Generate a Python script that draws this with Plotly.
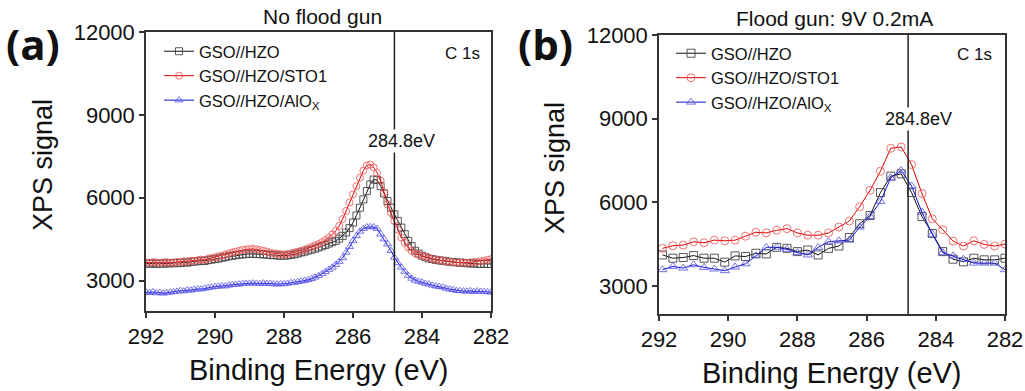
import numpy as np
import plotly.graph_objects as go

W, H = 1025, 391

# ---------------- data ----------------
# Panel (a): No flood gun, 292.0 -> 282.0 eV, 0.1 eV step
energy_a = np.round(np.linspace(292.0, 282.0, 101), 1)
hzo_a = [3620, 3610, 3630, 3600, 3620, 3610, 3630, 3620, 3640, 3630, 3640,
         3660, 3650, 3680, 3690, 3700, 3720, 3710, 3740, 3760, 3780,
         3800, 3830, 3850, 3880, 3900, 3920, 3940, 3950, 3960, 3970,
         3970, 3960, 3960, 3950, 3940, 3930, 3920, 3910, 3900, 3900,
         3910, 3930, 3950, 3980, 4020, 4050, 4090, 4120, 4160, 4200,
         4240, 4290, 4340, 4390, 4440, 4520, 4620, 4740, 4900, 5100,
         5360, 5640, 5940, 6240, 6480, 6660, 6640, 6420, 6150, 5880,
         5640, 5400, 5160, 4920, 4680, 4440, 4250, 4080, 3980, 3900,
         3850, 3800, 3780, 3750, 3730, 3720, 3700, 3680, 3670, 3660,
         3650, 3640, 3630, 3620, 3620, 3610, 3600, 3610, 3600, 3600]
sto_a = [3660, 3650, 3670, 3660, 3640, 3660, 3670, 3650, 3660, 3680, 3670,
         3700, 3690, 3720, 3710, 3740, 3760, 3750, 3790, 3820, 3840,
         3880, 3900, 3940, 3980, 4020, 4050, 4080, 4110, 4130, 4140,
         4150, 4130, 4110, 4080, 4050, 4010, 3990, 3970, 3960, 3950,
         3960, 3990, 4020, 4050, 4080, 4120, 4170, 4220, 4270, 4320,
         4390, 4470, 4560, 4670, 4800, 4980, 5230, 5520, 5830, 6120,
         6420, 6720, 6980, 7170, 7200, 7100, 6900, 6620, 6200, 5760,
         5450, 5160, 4850, 4560, 4370, 4200, 4080, 3990, 3940, 3900,
         3860, 3820, 3790, 3760, 3740, 3720, 3700, 3680, 3670, 3660,
         3650, 3660, 3640, 3660, 3670, 3680, 3700, 3720, 3750, 3780]
alo_a = [2580, 2560, 2590, 2550, 2570, 2540, 2560, 2580, 2590, 2610, 2640,
         2620, 2660, 2650, 2680, 2700, 2690, 2720, 2740, 2760, 2780,
         2790, 2810, 2800, 2830, 2850, 2860, 2870, 2890, 2900, 2900,
         2910, 2900, 2890, 2910, 2890, 2900, 2880, 2870, 2880, 2880,
         2900, 2920, 2930, 2960, 2980, 3000, 3030, 3070, 3120, 3180,
         3250, 3320, 3400, 3480, 3580, 3690, 3820, 4020, 4230, 4440,
         4620, 4780, 4880, 4940, 4950, 4940, 4880, 4680, 4500, 4320,
         4080, 3840, 3640, 3480, 3330, 3180, 3080, 3010, 2970, 2940,
         2900, 2870, 2830, 2800, 2780, 2760, 2720, 2690, 2670, 2640,
         2630, 2620, 2610, 2630, 2600, 2620, 2610, 2600, 2590, 2580]

# Panel (b): Flood gun 9V 0.2mA, 291.9 -> 282.0 eV, 0.3 eV step
energy_b = np.round(np.linspace(291.9, 282.0, 34), 1)
hzo_b = [4118, 4000, 4024, 4094, 4000, 4000, 3859, 4083, 4059, 4177,
         4153, 4388, 4353, 4236, 4294, 4118, 4353, 4435, 4741, 5235,
         5530, 6353, 6941, 7024, 6353, 5494, 4883, 4236, 3965, 3871,
         4000, 3941, 3941, 4000]
sto_b = [4353, 4447, 4471, 4588, 4553, 4647, 4624, 4647, 4788, 4929,
         4906, 5000, 5059, 4906, 4824, 4824, 4906, 5118, 5330, 5847,
         6435, 7117, 7940, 7988, 7353, 6318, 5412, 5024, 4612, 4435,
         4624, 4494, 4435, 4506]
alo_b = [3588, 3706, 3647, 3765, 3671, 3612, 3553, 3682, 3800, 4083,
         4388, 4388, 4318, 4200, 4118, 4388, 4588, 4624, 4647, 5118,
         5494, 6035, 6882, 7141, 6588, 5647, 4859, 4200, 4083, 3965,
         3824, 3824, 3824, 3588]

series_names = ["GSO//HZO", "GSO//HZO/STO1", "GSO//HZO/AlO<sub>X</sub>"]
x_ticks = [292, 290, 288, 286, 284, 282]
y_ticks = [3000, 6000, 9000, 12000]
ref_energy = 284.8

FONT = "Liberation Sans"


def px(x):
    return x / W


def py(y):
    return 1 - y / H


styles = [
    dict(line=dict(color="#111111", width=1),
         symbol="square-open", mcolor="rgba(70,70,70,0.9)"),
    dict(line=dict(color="#e00000", width=1),
         symbol="circle-open", mcolor="rgba(235,90,90,0.85)"),
    dict(line=dict(color="#1010d0", width=1),
         symbol="triangle-up-open", mcolor="rgba(90,90,235,0.85)"),
]

fig = go.Figure()

for xs, ys_list, xa, ya, lg, msize in [
    (energy_a, [hzo_a, sto_a, alo_a], "x", "y", "legend", 7),
    (energy_b, [hzo_b, sto_b, alo_b], "x2", "y2", "legend2", 8),
]:
    for name, ys, st in zip(series_names, ys_list, styles):
        fig.add_trace(go.Scatter(
            x=xs, y=ys, name=name, mode="lines+markers",
            line=st["line"],
            marker=dict(symbol=st["symbol"], size=msize,
                        color=st["mcolor"], line=dict(width=1, color=st["mcolor"])),
            xaxis=xa, yaxis=ya, legend=lg,
        ))

axis_common = dict(showline=True, linecolor="#333333", linewidth=1.5, mirror=True,
                   ticks="outside", ticklen=5, tickwidth=1.5, tickcolor="#333333",
                   showgrid=False, zeroline=False, tickformat="d", automargin=False,
                   tickfont=dict(family=FONT, size=22, color="#111111"))

legend_common = dict(xanchor="left", yanchor="top",
                     bgcolor="rgba(255,255,255,0.85)", borderwidth=0,
                     font=dict(family=FONT, size=16.5, color="#111111"),
                     tracegroupgap=0, itemclick=False)

fig.update_layout(
    width=W, height=H, autosize=False,
    margin=dict(l=0, r=0, t=0, b=0, pad=0, autoexpand=False),
    paper_bgcolor="white", plot_bgcolor="white",
    font=dict(family=FONT, color="#111111"),
    xaxis=dict(domain=[px(146), px(491)], range=[292, 282], tickvals=x_ticks,
               anchor="y", **axis_common),
    yaxis=dict(domain=[py(311), py(32)], range=[1900, 12000], tickvals=y_ticks,
               anchor="x", **axis_common),
    xaxis2=dict(domain=[px(659), px(1005)], range=[292, 282], tickvals=x_ticks,
                anchor="y2", **axis_common),
    yaxis2=dict(domain=[py(314), py(35)], range=[2000, 12000], tickvals=y_ticks,
                anchor="x2", **axis_common),
    legend=dict(x=px(159), y=py(34), **legend_common),
    legend2=dict(x=px(671), y=py(36), **legend_common),
)

# reference lines at 284.8 eV
for xr, yr in [("x", "y domain"), ("x2", "y2 domain")]:
    fig.add_shape(type="line", xref=xr, yref=yr, x0=ref_energy, x1=ref_energy,
                  y0=0, y1=1, line=dict(color="#222222", width=1.5))


def ann(text, x, y, size, bold=False, bg=None, angle=0, family=FONT):
    fig.add_annotation(
        text=f"<b>{text}</b>" if bold else text,
        x=px(x), y=py(y), xref="paper", yref="paper",
        xanchor="center", yanchor="middle", showarrow=False,
        textangle=angle, bgcolor=bg,
        font=dict(family=family, size=size, color="#111111"))


BOLD = "Open Sans"

# panel (a)
ann("(a)", 33, 44, 42, bold=True, family=BOLD)
ann("No flood gun", 322, 17, 21)
ann("C 1s", 462, 53, 17)
ann(f"{ref_energy}eV", 401, 141, 18, bg="white")
ann("XPS signal", 43, 165, 27, angle=-90)
ann("Binding Energy (eV)", 319, 370, 29)

# panel (b)
ann("(b)", 545, 44, 42, bold=True, family=BOLD)
ann("Flood gun: 9V 0.2mA", 834, 19, 21)
ann("C 1s", 974, 55, 17)
ann(f"{ref_energy}eV", 918, 119, 18, bg="white")
ann("XPS signal", 555, 168, 27, angle=-90)
ann("Binding Energy (eV)", 832, 373, 29)

fig.write_html("out.html")
